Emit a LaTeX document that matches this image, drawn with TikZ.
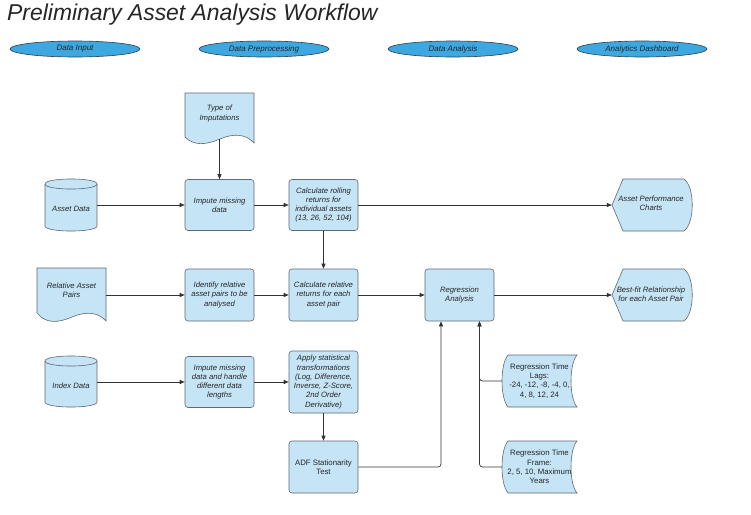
\documentclass[tikz,border=0pt]{standalone}
\usepackage{fontspec}
\setmainfont{Liberation Sans}
\usetikzlibrary{shapes.geometric,arrows.meta,calc}
\definecolor{boxfill}{HTML}{C5E4F6}
\definecolor{boxline}{HTML}{5E6A74}
\definecolor{hdrfill}{HTML}{3DA8E0}
\definecolor{hdrline}{HTML}{2F3E4A}
\definecolor{connc}{HTML}{333333}
\begin{document}
\begin{tikzpicture}[x=1pt,y=-1pt,
 every node/.style={font=\fontsize{7.7}{9.3}\selectfont\itshape, text=black!85, inner sep=1pt, align=center},
 upr/.style={font=\fontsize{7.8}{9.3}\selectfont\upshape},
 hdr/.style={ellipse, draw=hdrline, fill=hdrfill, minimum width=130pt, minimum height=16pt, line width=0.6pt, font=\fontsize{8}{9.3}\selectfont\itshape},
 procbox/.style={rectangle, rounded corners=3pt, draw=boxline, fill=boxfill, minimum width=69pt, line width=0.6pt},
 shp/.style={draw=boxline, fill=boxfill, line width=0.6pt},
 conn/.style={draw=connc, line width=0.7pt, -{Triangle[length=5pt,width=4pt]}},
 lnk/.style={conn, rounded corners=3pt}
]
\useasboundingbox (0,0) rectangle (751,514);
\fill[white] (0,0) rectangle (751,514);

% title
\node[anchor=base west, font=\fontsize{22.9}{27}\selectfont\itshape, inner sep=0pt] (title) at (7,20.5) {Preliminary Asset Analysis Workflow};

% headers
\node[hdr] (h1) at (75,49) {Data Input};
\node[hdr] (h2) at (264,49) {Data Preprocessing};
\node[hdr] (h3) at (453,49) {Data Analysis};
\node[hdr] (h4) at (642,49) {Analytics Dashboard};

% --- custom shape outlines ---
% document: Type of Imputations
\path[shp] (185,93) -- (254,93) -- (254,143) .. controls (246,134) and (234,133) .. (220,139) .. controls (206,145) and (194,146) .. (185,137) -- cycle;
% document: Relative Asset Pairs
\path[shp] (37,268) -- (106,268) -- (106,321) .. controls (98,312) and (86,311) .. (72,317) .. controls (58,323) and (46,324) .. (37,313) -- cycle;
% cylinder: Asset Data
\path[shp] (45,184) -- (45,226) .. controls (45,232.7) and (97,232.7) .. (97,226) -- (97,184) .. controls (97,177.3) and (45,177.3) .. (45,184) -- cycle;
\draw[boxline, line width=0.6pt] (45,184) .. controls (45,190.7) and (97,190.7) .. (97,184);
% cylinder: Index Data
\path[shp] (45,361) -- (45,402) .. controls (45,408.7) and (97,408.7) .. (97,402) -- (97,361) .. controls (97,354.3) and (45,354.3) .. (45,361) -- cycle;
\draw[boxline, line width=0.6pt] (45,361) .. controls (45,367.7) and (97,367.7) .. (97,361);
% display: Asset Performance Charts
\path[shp] (612,205) -- (623,179) -- (684,179) .. controls (695,187) and (695,223) .. (684,231) -- (623,231) -- cycle;
% display: Best-fit
\path[shp] (612,295) -- (623,269) -- (684,269) .. controls (695,277) and (695,313) .. (684,321) -- (623,321) -- cycle;
% stored data: Lags
\path[shp] (508,355) -- (577,355) .. controls (569,364) and (569,398) .. (577,407) -- (508,407) .. controls (500,398) and (500,364) .. (508,355) -- cycle;
% stored data: Frame
\path[shp] (508,441) -- (577,441) .. controls (569,450) and (569,484) .. (577,493) -- (508,493) .. controls (500,484) and (500,450) .. (508,441) -- cycle;

% --- shape anchors and labels of custom shapes ---
\node[minimum width=69pt, minimum height=46pt] (toi) at (219.5,116) {};
\node (toit) at (219.5,113.5) {Type of\\Imputations};
\node[minimum width=52pt, minimum height=52pt] (ad) at (71,205) {};
\node (adt) at (71,208.5) {Asset Data};
\node[minimum width=69pt, minimum height=52pt] (rap) at (71.5,295) {};
\node (rapt) at (71.5,290) {Relative Asset\\Pairs};
\node[minimum width=52pt, minimum height=51pt] (id) at (71,382) {};
\node (idt) at (71,385.5) {Index Data};
\node[minimum width=80pt, minimum height=52pt] (apc) at (652,205) {};
\node (apct) at (651,203.5) {Asset Performance\\Charts};
\node[minimum width=80pt, minimum height=52pt] (bf) at (652,295) {};
\node (bft) at (651,294) {Best-fit Relationship\\for each Asset Pair};
\node[upr, minimum width=75pt, minimum height=52pt] (lags) at (539.5,381) {Regression Time\\Lags:\\-24, -12, -8, -4, 0,\\4, 8, 12, 24};
\node[upr, minimum width=75pt, minimum height=52pt] (frame) at (539.5,467) {Regression Time\\Frame:\\2, 5, 10, Maximum\\Years};

% --- process boxes ---
\node[procbox, minimum height=51pt] (imp1) at (219.5,205) {Impute missing\\data};
\node[procbox, minimum height=51pt] (roll) at (323.5,205) {Calculate rolling\\returns for\\individual assets\\(13, 26, 52, 104)};
\node[procbox, minimum height=52pt] (ident) at (219.5,295) {Identify relative\\asset pairs to be\\analysed};
\node[procbox, minimum height=52pt] (relret) at (323.5,295) {Calculate relative\\returns for each\\asset pair};
\node[procbox, minimum height=52pt] (reg) at (459.5,295) {Regression\\Analysis};
\node[procbox, minimum height=51pt] (imp2) at (219.5,382) {Impute missing\\data and handle\\different data\\lengths};
\node[procbox, minimum height=62pt] (stat) at (323.5,382) {Apply statistical\\transformations\\(Log, Difference,\\Inverse, Z-Score,\\2nd Order\\Derivative)};
\node[procbox, upr, minimum height=52pt] (adf) at (323.5,467) {ADF Stationarity\\Test};

% --- connectors ---
\draw[conn] (toi.south) -- (imp1);
\draw[conn] (ad) -- (imp1);
\draw[conn] (imp1) -- (roll);
\draw[conn] (roll) -- (apc);
\draw[conn] (roll) -- (relret);
\draw[conn] (rap) -- (ident);
\draw[conn] (ident) -- (relret);
\draw[conn] (relret) -- (reg);
\draw[conn] (reg) -- (bf);
\draw[conn] (id) -- (imp2);
\draw[conn] (imp2) -- (stat);
\draw[conn] (stat) -- (adf);
\draw[lnk] (adf.east) -| ($(reg.south)+(-18.5,0)$);
\draw[lnk] (lags.west) -| ($(reg.south)+(20,0)$);
\draw[lnk] (frame.west) -| ($(reg.south)+(20,0)$);
\end{tikzpicture}
\end{document}
